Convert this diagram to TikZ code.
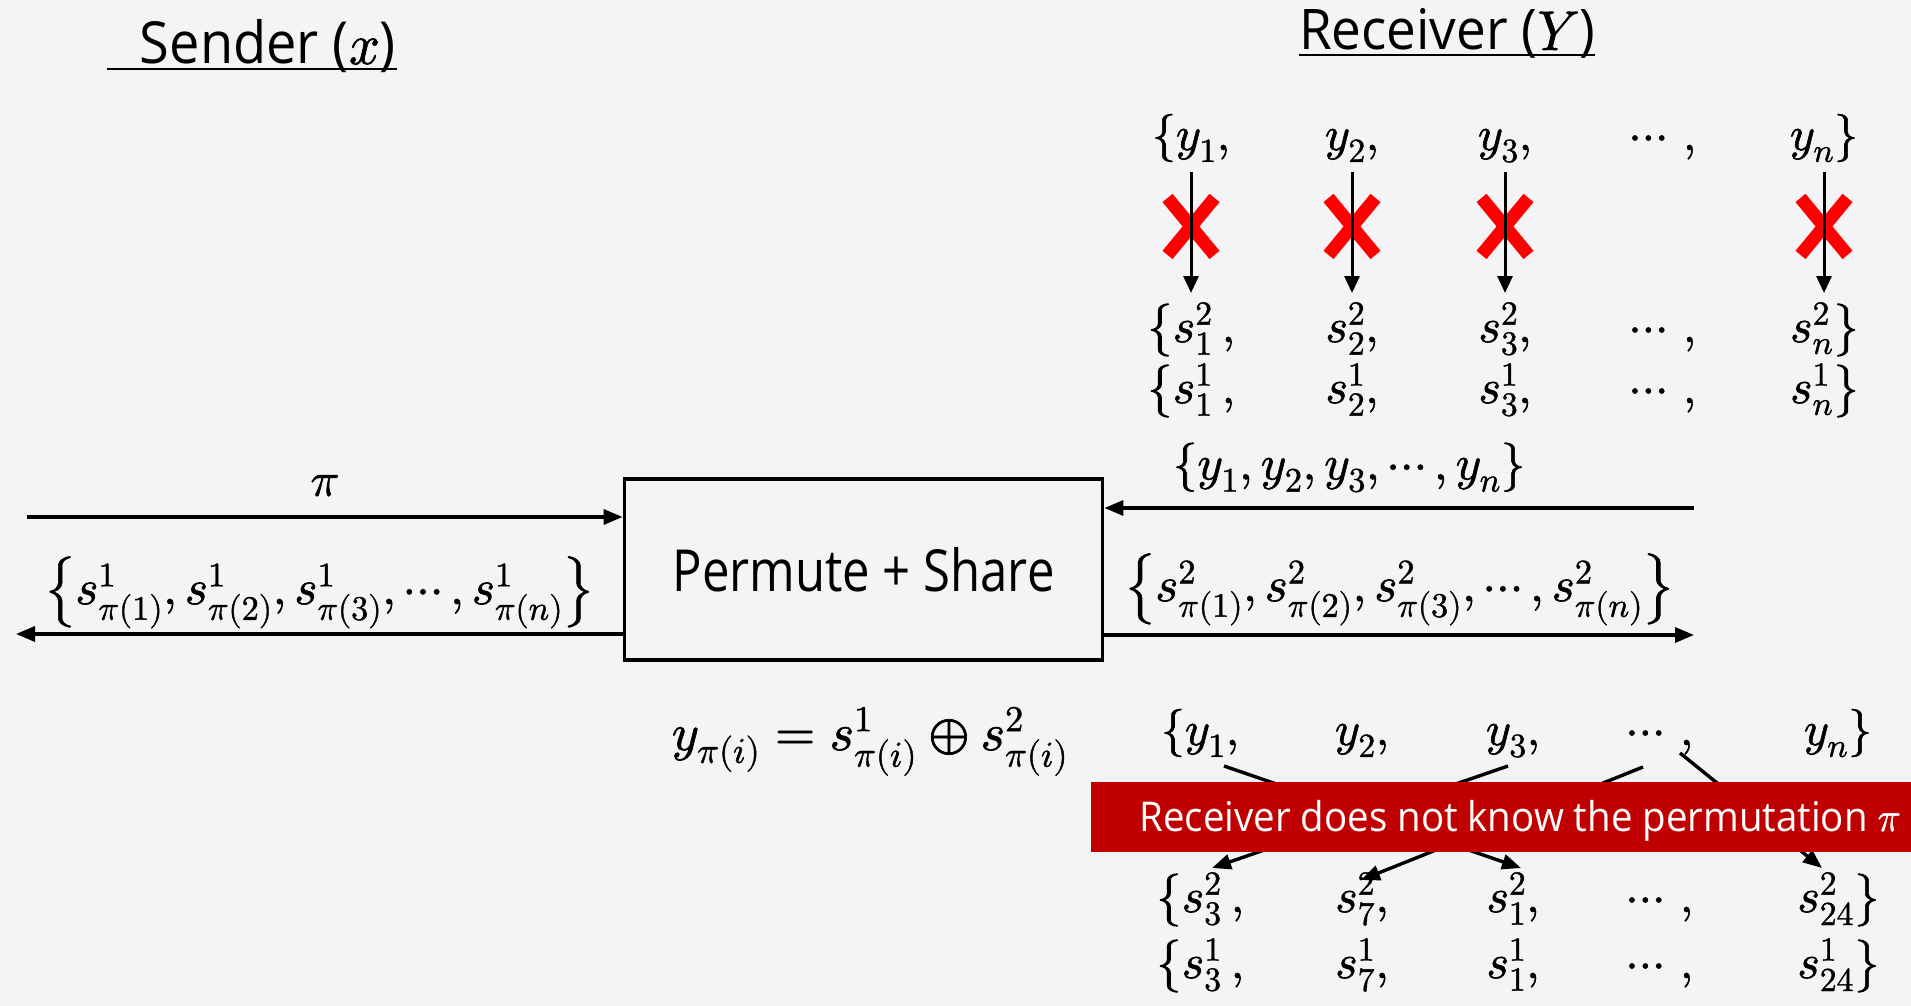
\documentclass[tikz,border=0pt]{standalone}
\usepackage{fontspec}
\setmainfont{Open Sans}
\usepackage{unicode-math}
\setmathfont{latinmodern-math.otf}[FakeBold=1.2]
\usetikzlibrary{arrows.meta, positioning, shapes.misc}

\definecolor{bandred}{RGB}{192,0,0}
\definecolor{xred}{RGB}{255,0,0}
\definecolor{slide}{RGB}{244,244,246}

\newcommand{\fitw}[2]{\resizebox{#1}{\height}{#2}}

\tikzset{
  arr/.style={line width=3.4pt, -{Triangle[length=19pt,width=15pt]}},
  tarr/.style={line width=3pt, -{Triangle[length=17pt,width=15pt]}},
  row/.style={anchor=base, inner sep=0pt, font=\fontsize{48}{56}\selectfont},
  srow/.style={row, text height=36pt, text depth=16pt},
  lbl/.style={inner sep=2pt, font=\fontsize{49}{56}\selectfont},
  nogo/.style={cross out, draw=xred, line width=13pt, minimum width=34pt, minimum height=44pt, inner sep=0pt},
  title/.style={anchor=base, inner sep=0pt},
}

\begin{document}
\begin{tikzpicture}[x=1pt, y=-1pt]
\useasboundingbox[fill=slide] (0,0) rectangle (1911,1006);

% titles
\node[title, font=\fontsize{58}{66}\selectfont] (sender) at (268,64) {\fitw{256pt}{Sender ($x$)}};
\draw[line width=2.8pt] (107,69) -- (397,69);
\node[title, font=\fontsize{56}{64}\selectfont] (receiver) at (1447,50) {\fitw{296pt}{Receiver ($Y$)}};
\draw[line width=2.8pt] (1299,55) -- (1595,55);

% receiver input and its shares
\node[row] (ya1) at (1191,150) {$\{y_1,$};
\node[row] (ya2) at (1352,150) {$y_2,$};
\node[row] (ya3) at (1505,150) {$y_3,$};
\node[row] (yad) at (1663,150) {$\cdots\,,$};
\node[row] (yan) at (1824,150) {$y_n\}$};

\node[srow] (sa1) at (1191,342) {$\left\{s_1^2\right.,$};
\node[srow] (sa2) at (1352,342) {$s_2^2,$};
\node[srow] (sa3) at (1505,342) {$s_3^2,$};
\node[srow] (sad) at (1663,342) {$\cdots\,,$};
\node[srow] (san) at (1824,342) {$\left.s_n^2\right\}$};

\node[srow] (ra1) at (1191,403) {$\left\{s_1^1\right.,$};
\node[srow] (ra2) at (1352,403) {$s_2^1,$};
\node[srow] (ra3) at (1505,403) {$s_3^1,$};
\node[srow] (rad) at (1663,403) {$\cdots\,,$};
\node[srow] (ran) at (1824,403) {$\left.s_n^1\right\}$};

% blocked arrows
\foreach \c in {1,2,3,n} {
  \path ([shift={(0,22)}]ya\c.base) -- ([shift={(0,-49)}]sa\c.base) node[pos=0.45, nogo] (no\c) {};
  \draw[tarr] ([shift={(0,22)}]ya\c.base) -- ([shift={(0,-49)}]sa\c.base);
}

% the functionality
\node[draw, line width=3.8pt, minimum width=478pt, minimum height=181pt, font=\fontsize{58}{64}\selectfont] (box) at (863.5,569.5) {\fitw{382pt}{Permute + Share}};

\coordinate (pin) at (27,517);
\coordinate (sout) at (16,634);
\coordinate (yin) at (1694,508);
\coordinate (rout) at (1694,635);

\draw[arr] (pin) -- (pin -| box.west) node[midway, above=19pt, row, anchor=south] {$\pi$};
\draw[arr] (sout -| box.west) -- (sout) node[midway, lbl, above=2pt] {$\left\{s^1_{\pi(1)}, s^1_{\pi(2)}, s^1_{\pi(3)}, \cdots, s^1_{\pi(n)}\right\}$};
\draw[arr] (yin) -- (yin -| box.east) node[pos=0.585, lbl, above=12pt] {$\{y_1, y_2, y_3, \cdots, y_n\}$};
\draw[arr] (rout -| box.east) -- (rout) node[midway, lbl, above=6pt] {$\left\{s^2_{\pi(1)}, s^2_{\pi(2)}, s^2_{\pi(3)}, \cdots, s^2_{\pi(n)}\right\}$};

\node[row, font=\fontsize{52}{60}\selectfont] (eq) at (870,750) {$y_{\pi(i)} = s^1_{\pi(i)} \oplus s^2_{\pi(i)}$};

% permuted shares
\node[row] (yb1) at (1200,745) {$\{y_1,$};
\node[row] (yb2) at (1362,745) {$y_2,$};
\node[row] (yb3) at (1513,745) {$y_3,$};
\node[row] (ybd) at (1660,745) {$\cdots\,,$};
\node[row] (ybn) at (1838,745) {$y_n\}$};

\node[srow] (sb1) at (1200,912) {$\left\{s_3^2\right.,$};
\node[srow] (sb2) at (1362,912) {$s_7^2,$};
\node[srow] (sb3) at (1513,912) {$s_1^2,$};
\node[srow] (sbd) at (1660,912) {$\cdots\,,$};
\node[srow] (sbn) at (1838,912) {$\left.s_{24}^2\right\}$};

\node[srow] (rb1) at (1200,978) {$\left\{s_3^1\right.,$};
\node[srow] (rb2) at (1362,978) {$s_7^1,$};
\node[srow] (rb3) at (1513,978) {$s_1^1,$};
\node[srow] (rbd) at (1660,978) {$\cdots\,,$};
\node[srow] (rbn) at (1838,978) {$\left.s_{24}^1\right\}$};

\draw[arr] ([shift={(24,21)}]yb1.base) -- ([shift={(8,-44)}]sb3.base);
\draw[arr] ([shift={(-5,21)}]yb3.base) -- ([shift={(12,-44)}]sb1.base);
\draw[arr] ([shift={(-17,22)}]ybd.base) -- ([shift={(-1,-32)}]sb2.base);
\draw[arr] ([shift={(20,8)}]ybd.base) -- ([shift={(-16,-44)}]sbn.base);

% banner
\fill[bandred] (1091,782) rectangle (1911,852);
\node[anchor=base, text=white, inner sep=0pt, font=\fontsize{41}{48}\selectfont] (note) at (1520,831) {\fitw{761pt}{Receiver does not know the permutation $\pi$}};
\end{tikzpicture}
\end{document}
